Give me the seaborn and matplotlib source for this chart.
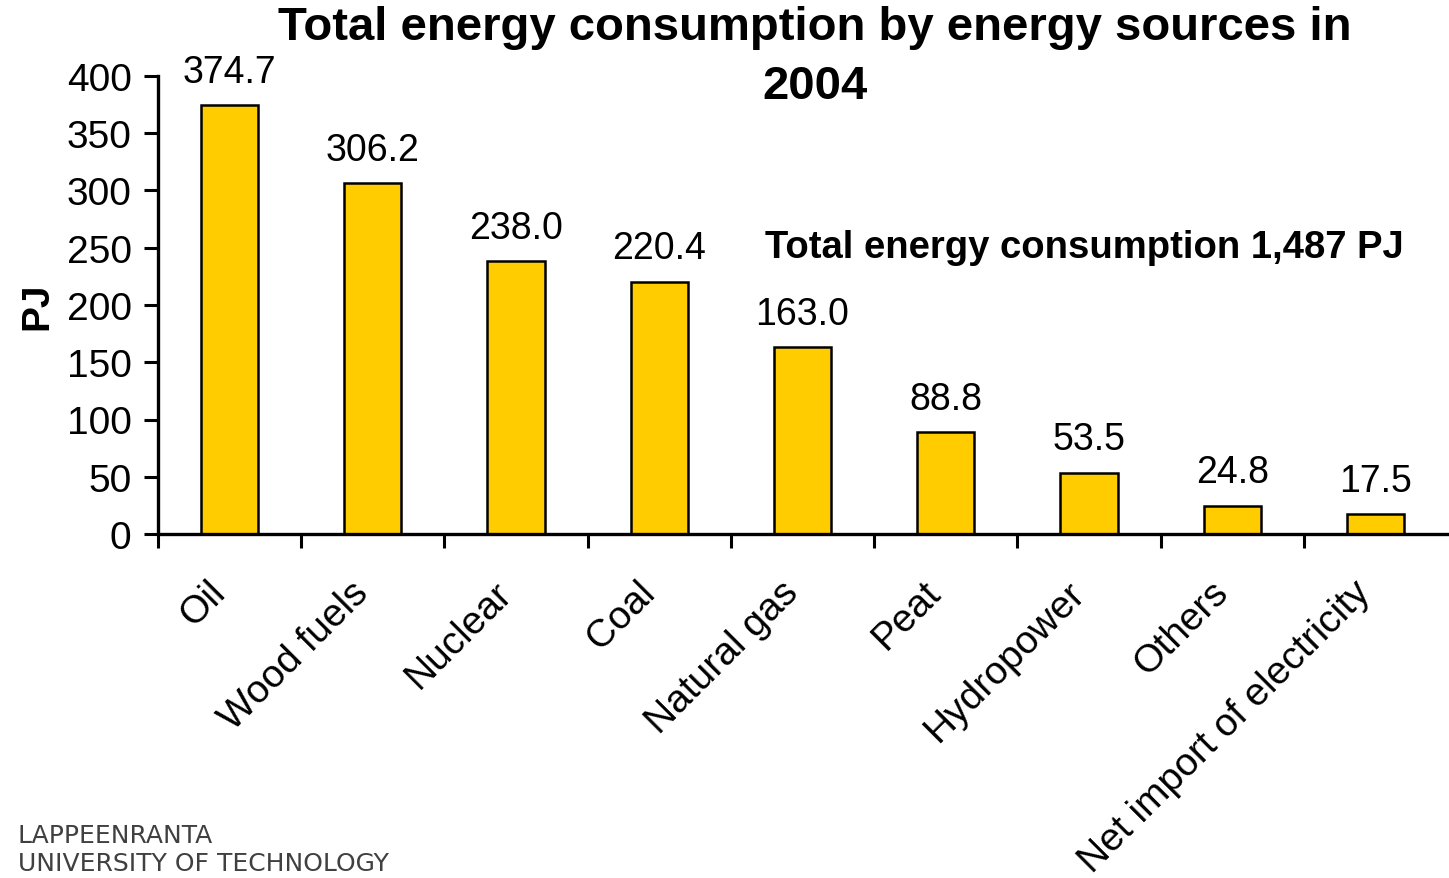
import matplotlib
matplotlib.use("Agg")
import matplotlib.pyplot as plt
import matplotlib.transforms as mtrans
import seaborn as sns
import pandas as pd
import numpy as np

categories = ["Oil", "Wood fuels", "Nuclear", "Coal", "Natural gas", "Peat",
              "Hydropower", "Others", "Net import of electricity"]
values = [374.7, 306.2, 238.0, 220.4, 163.0, 88.8, 53.5, 24.8, 17.5]
yticks = [0, 50, 100, 150, 200, 250, 300, 350, 400]
title = "Total energy consumption by energy sources in\n2004"
note = "Total energy consumption 1,487 PJ"
logo = "LAPPEENRANTA\nUNIVERSITY OF TECHNOLOGY"

sns.set_style("white")
plt.rcParams['font.family'] = ['Liberation Sans', 'DejaVu Sans']
plt.rcParams['text.color'] = 'black'
plt.rcParams['axes.labelcolor'] = 'black'
plt.rcParams['xtick.color'] = 'black'
plt.rcParams['ytick.color'] = 'black'

df = pd.DataFrame({"source": categories, "pj": values})

fig = plt.figure(figsize=(14.49, 8.79), dpi=100)
ax = fig.add_axes([158/1449, 1-535/879, (1447-158)/1449, (535-77)/879])

sns.barplot(data=df, x="source", y="pj", ax=ax, color="#FFCC00",
            edgecolor="black", linewidth=1.8, width=0.4, saturation=1)

ax.set_xlim(-0.5, len(categories)-0.5)
ax.set_ylim(0, 400)
ax.set_yticks(yticks)
ax.set_yticklabels([str(t) for t in yticks], fontsize=28)
ax.tick_params(axis='y', direction='out', length=10, width=2.2, pad=9, left=True)

# category labels at centers, ticks at boundaries
ax.set_xticks(range(len(categories)))
ax.set_xticklabels(categories, rotation=45, ha='right', va='center',
                   rotation_mode='anchor', fontsize=28)
ax.tick_params(axis='x', which='major', length=0, pad=38)
offset = mtrans.ScaledTranslation(-10/100, 0, fig.dpi_scale_trans)
for lbl in ax.get_xticklabels():
    lbl.set_transform(lbl.get_transform() + offset)
ax.set_xticks(np.arange(-0.5, len(categories)-0.5, 1.0), minor=True)
ax.tick_params(axis='x', which='minor', direction='out', length=10, width=2.2, bottom=True)

for s in ["top", "right"]:
    ax.spines[s].set_visible(False)
for s in ["left", "bottom"]:
    ax.spines[s].set_linewidth(2.4)
    ax.spines[s].set_color("black")

ax.set_xlabel("")
ax.set_ylabel("PJ", fontsize=28, fontweight='bold', labelpad=8)

for c in ax.containers:
    ax.bar_label(c, labels=[f"{v:.1f}" for v in values], padding=11, fontsize=27)

ax.text(3.74, 251, note, ha='left', va='center', fontsize=27.5, fontweight='bold')

fig.text(815/1449, 1-6/879, title, ha='center', va='top', fontsize=34,
         fontweight='bold', linespacing=1.45)

fig.text(18/1449, 1-876/879, logo, ha='left', va='bottom', fontsize=18,
         color='#404040', family=['DejaVu Sans'], linespacing=1.2)

ax.patch.set_alpha(0)
fig.savefig("out.png", dpi=100)
